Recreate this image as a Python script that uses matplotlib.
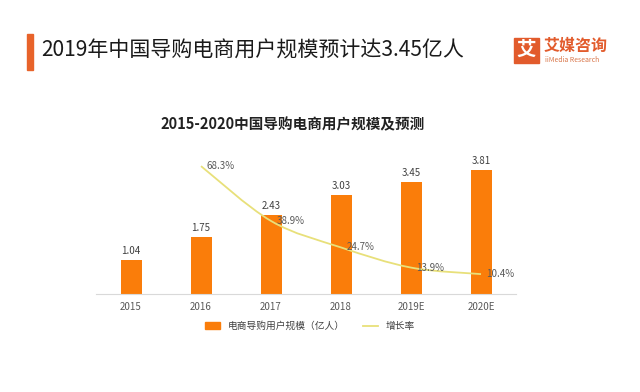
import matplotlib
matplotlib.use('Agg')
import matplotlib.pyplot as plt
from matplotlib.patches import Rectangle, Patch
from matplotlib.lines import Line2D
from matplotlib.path import Path
from matplotlib.patches import PathPatch

plt.rcParams['font.family'] = ['Noto Sans CJK SC', 'DejaVu Sans']

years = ['2015', '2016', '2017', '2018', '2019E', '2020E']
users = [1.04, 1.75, 2.43, 3.03, 3.45, 3.81]
growth_years = [1, 2, 3, 4, 5]
growth = [68.3, 38.9, 24.7, 13.9, 10.4]

bar_color = '#fa7d0a'
line_color = '#e8e07a'

W, H = 640, 392
fig = plt.figure(figsize=(6.4, 3.92), dpi=100)

def fx(px):
    return px / W

def fy(py):
    return 1 - py / H

# header
fig.patches.append(Rectangle((fx(27), fy(70)), fx(6), 36 / H, transform=fig.transFigure,
                             color='#e8632a', zorder=3))
fig.text(fx(41), fy(51), '2019年中国导购电商用户规模预计达3.45亿人', fontsize=15.1,
         color='#1a1a1a', va='center', ha='left')

# logo
fig.patches.append(Rectangle((fx(514), fy(63)), fx(25), 25 / H, transform=fig.transFigure,
                             color='#e25b2c', zorder=3))
fig.text(fx(526.5), fy(50.5), '艾', fontsize=14, fontweight='bold', color='white',
         ha='center', va='center', zorder=4)
fig.text(fx(544), fy(46), '艾媒咨询', fontsize=11.5, fontweight='bold', color='#e25b2c',
         ha='left', va='center')
fig.text(fx(545), fy(60), 'iiMedia Research', fontsize=5, color='#d9764a',
         ha='left', va='center')

# chart title
fig.text(fx(293), fy(124), '2015-2020中国导购电商用户规模及预测', fontsize=10.5,
         fontweight='bold', color='#222222', ha='center', va='center')

ax = fig.add_axes([fx(96), fy(293.5), fx(420), 143.5 / H])
x = list(range(len(years)))
bars = ax.bar(x, users, width=0.3, color=bar_color, zorder=2)
ax.set_xlim(-0.5, 5.5)
ax.set_ylim(0, 143.5 / 32.4)
for xi, v in zip(x, users):
    ax.annotate(f'{v:.2f}', (xi, v), xytext=(0, 3), textcoords='offset points',
                ha='center', va='bottom', fontsize=7, color='#404040')
ax.set_xticks(x)
ax.set_xticklabels(years, fontsize=7, color='#595959')
ax.tick_params(axis='x', length=0, pad=6)
ax.set_yticks([])
for s in ['top', 'right', 'left']:
    ax.spines[s].set_visible(False)
ax.spines['bottom'].set_color('#d9d9d9')
ax.patch.set_alpha(0)

ax2 = ax.twinx()
ax2.set_ylim(0, 143.5 / 1.865)
ax2.set_yticks([])
for s in ['top', 'right', 'left', 'bottom']:
    ax2.spines[s].set_visible(False)

# smooth curve through growth points (Catmull-Rom as cubic Bezier)
pts = list(zip(growth_years, growth))
verts = [pts[0]]
codes = [Path.MOVETO]
n = len(pts)
for i in range(n - 1):
    p0 = pts[i - 1] if i > 0 else pts[i]
    p1 = pts[i]
    p2 = pts[i + 1]
    p3 = pts[i + 2] if i + 2 < n else pts[i + 1]
    c1 = (p1[0] + (p2[0] - p0[0]) / 6, p1[1] + (p2[1] - p0[1]) / 6)
    c2 = (p2[0] - (p3[0] - p1[0]) / 6, p2[1] - (p3[1] - p1[1]) / 6)
    verts += [c1, c2, p2]
    codes += [Path.CURVE4] * 3
ax2.add_patch(PathPatch(Path(verts, codes), facecolor='none', edgecolor=line_color,
                        lw=1.3, zorder=3))
for xi, g in zip(growth_years, growth):
    ax2.annotate(f'{g}%', (xi, g), xytext=(4, 0), textcoords='offset points',
                 ha='left', va='center', fontsize=7, color='#595959')

handles = [Patch(color=bar_color), Line2D([0], [0], color=line_color, lw=1.3)]
fig.legend(handles, ['电商导购用户规模（亿人）', '增长率'], loc='center',
           bbox_to_anchor=(fx(310), fy(326)), ncol=2, frameon=False, fontsize=7,
           handlelength=1.6, handleheight=0.6, columnspacing=1.8, labelcolor='#404040')

fig.savefig('out.png', dpi=100, facecolor='white')
